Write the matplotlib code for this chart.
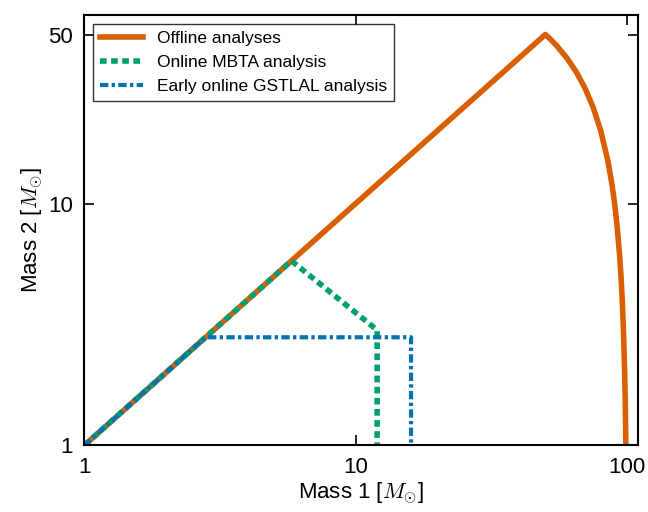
import matplotlib
matplotlib.use("Agg")
import matplotlib.pyplot as plt
from matplotlib.ticker import FixedLocator, NullLocator

plt.rcParams['font.family'] = ['Liberation Sans', 'DejaVu Sans']
plt.rcParams['mathtext.fontset'] = 'cm'

# offline analyses boundary
offline_m1 = [1, 50, 52, 55, 60, 65, 70, 75, 80, 85, 88, 90, 92, 94, 95, 96, 97, 98, 98.5, 99]
offline_m2 = [1, 50, 48, 45, 40, 35, 30, 25, 20, 15, 12, 10, 8, 6, 5, 4, 3, 2, 1.5, 1]
# online MBTA
mbta_m1 = [1, 5.8, 12, 12]
mbta_m2 = [1, 5.8, 3, 1]
# early online GSTLAL
gstlal_m1 = [1, 2.8, 16, 16]
gstlal_m2 = [1, 2.8, 2.8, 1]

fig, ax = plt.subplots(figsize=(6.48, 5.12), dpi=100)
ax.plot(offline_m1, offline_m2, color='#d95f02', lw=4, label='Offline analyses')
ax.plot(mbta_m1, mbta_m2, color='#009e73', lw=4, ls=(0, (1.2, 0.8)), label='Online MBTA analysis')
ax.plot(gstlal_m1, gstlal_m2, color='#0072b2', lw=3, ls=(0, (2, 0.8, 0.8, 0.8)), label='Early online GSTLAL analysis')

ax.set_xscale('log')
ax.set_yscale('log')
ax.set_xlim(1, 110)
ax.set_ylim(1, 60)
ax.xaxis.set_major_locator(FixedLocator([1, 10, 100]))
ax.yaxis.set_major_locator(FixedLocator([1, 10, 50]))
ax.xaxis.set_minor_locator(NullLocator())
ax.yaxis.set_minor_locator(NullLocator())
ax.set_xticklabels(['1', '10', '100'])
ax.set_yticklabels(['1', '10', '50'])
ax.tick_params(which='both', direction='in', top=True, right=True, labelsize=16, length=7, width=1.2, pad=8)
for s in ax.spines.values():
    s.set_linewidth(1.5)
ax.set_xlabel(r'Mass 1 [$M_{\odot}$]', fontsize=16, labelpad=2)
ax.set_ylabel(r'Mass 2 [$M_{\odot}$]', fontsize=16, labelpad=2)
leg = ax.legend(loc='upper left', fontsize=12.5, fancybox=False, edgecolor='black', handlelength=2.5)
leg.get_frame().set_linewidth(1.0)
fig.subplots_adjust(left=0.13, right=0.985, top=0.97, bottom=0.13)
fig.savefig('out.png')
